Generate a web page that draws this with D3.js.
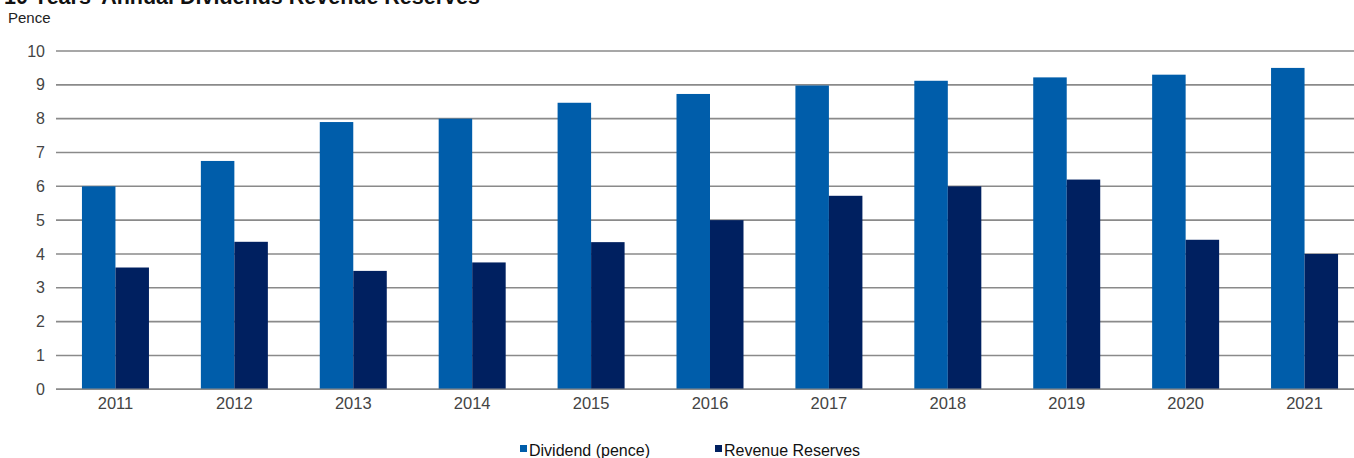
<!DOCTYPE html>
<html>
<head>
<meta charset="utf-8">
<script src="https://cdn.jsdelivr.net/npm/d3@7"></script>
<style>
body { margin: 0; background: #fff; }
svg { display: block; font-family: "Liberation Sans", Arial, sans-serif; }
</style>
</head>
<body>
<div class="canvas"></div>
<script>
var W = 1354, H = 458;

var years = ['2011', '2012', '2013', '2014', '2015', '2016', '2017', '2018', '2019', '2020', '2021'];
var dividend = [6.0, 6.75, 7.9, 8.0, 8.47, 8.73, 8.98, 9.12, 9.22, 9.3, 9.5];
var reserves = [3.6, 4.36, 3.5, 3.75, 4.35, 5.0, 5.72, 6.0, 6.2, 4.42, 4.0];
var y_ticks = [0, 1, 2, 3, 4, 5, 6, 7, 8, 9, 10];
var series_names = ['Dividend (pence)', 'Revenue Reserves'];
var colors = ['#005daa', '#002060'];

var svg = d3.select('div.canvas').append('svg').attr('width', W).attr('height', H);

var x = d3.scaleBand().domain(years).range([56, 1364]);
var y = d3.scaleLinear().domain([0, 10]).range([389.3, 51]);
var bar_w = 33.5;

// title, cut at top like the source image
svg.append('text')
	.attr('x', 4).attr('y', 4)
	.attr('font-size', 21.5).attr('font-weight', 'bold').attr('fill', '#111')
	.text("10 Years' Annual Dividends Revenue Reserves");

svg.append('text')
	.attr('x', 8).attr('y', 23)
	.attr('font-size', 15).attr('fill', '#222')
	.text('Pence');

// grid
svg.append('g').selectAll('line').data(y_ticks).join('line')
	.attr('x1', 56).attr('x2', W)
	.attr('y1', function(d) { return y(d); }).attr('y2', function(d) { return y(d); })
	.attr('stroke', '#8a8a8a').attr('stroke-width', 1.6);

var yAxis = d3.axisLeft(y).tickValues(y_ticks).tickSize(0).tickPadding(0);
var gy = svg.append('g').attr('transform', 'translate(45,0)').call(yAxis);
gy.select('.domain').remove();
gy.selectAll('text').attr('font-size', 16).attr('fill', '#444').attr('font-family', 'Liberation Sans, Arial, sans-serif');

// bars
var data = [dividend, reserves];
for (var s = 0; s < 2; ++s) {
	svg.append('g').selectAll('rect').data(years).join('rect')
		.attr('x', function(d) { return x(d) + x.bandwidth() / 2 - bar_w + s * bar_w; })
		.attr('y', function(d, i) { return y(data[s][i]); })
		.attr('width', bar_w)
		.attr('height', function(d, i) { return y(0) - y(data[s][i]); })
		.attr('fill', colors[s]);
}

// baseline
svg.append('line').attr('x1', 56).attr('x2', W).attr('y1', y(0)).attr('y2', y(0))
	.attr('stroke', '#8a8a8a').attr('stroke-width', 1.6);

var xAxis = d3.axisBottom(x).tickSize(0).tickPadding(8);
var gx = svg.append('g').attr('transform', 'translate(0,' + y(0) + ')').call(xAxis);
gx.select('.domain').remove();
gx.selectAll('text').attr('font-size', 16.5).attr('fill', '#444').attr('font-family', 'Liberation Sans, Arial, sans-serif');

// legend
var leg_x = [520, 715];
for (var i = 0; i < 2; ++i) {
	var g = svg.append('g').attr('transform', 'translate(' + leg_x[i] + ',450)');
	g.append('rect').attr('x', 0).attr('y', -5).attr('width', 7).attr('height', 7).attr('fill', colors[i]);
	g.append('text').attr('x', 9).attr('y', 0).attr('dy', '0.35em')
		.attr('font-size', 16).attr('fill', '#111').text(series_names[i]);
}
</script>
</body>
</html>
